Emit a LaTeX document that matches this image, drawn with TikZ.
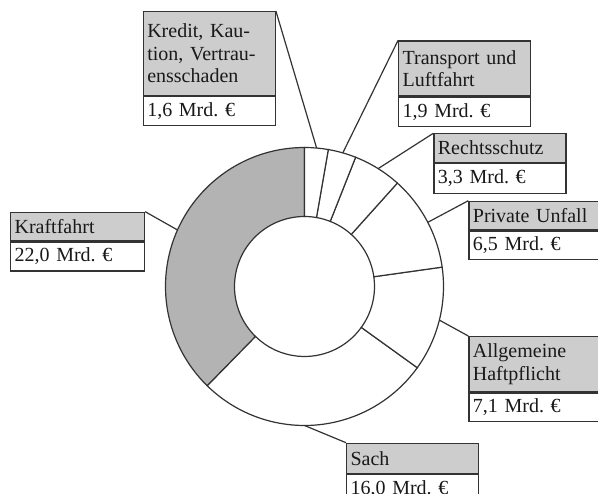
\documentclass[tikz,border=0pt]{standalone}
\usepackage{fontspec}
\setmainfont{Liberation Serif}
\definecolor{ln}{HTML}{333333}
\definecolor{hdr}{HTML}{CDCDCD}
\definecolor{slc}{HTML}{B3B3B3}
\begin{document}
\begin{tikzpicture}[x=1pt,y=1pt,
  every node/.style={font=\fontsize{20}{22.5}\selectfont\frenchspacing, text=black!90},
  hdrbox/.style={draw=ln, line width=1.2pt, fill=hdr, rectangle, anchor=north west,
    inner xsep=4pt, inner ysep=0pt, text width=124pt, align=left, minimum height=#1},
  hdrbox/.default=28.5pt,
  valbox/.style={draw=ln, line width=1.2pt, fill=white, rectangle, anchor=north west,
    inner xsep=4pt, inner ysep=0pt, text width=124pt, align=left, minimum height=29pt},
  conn/.style={draw=ln, line width=1.2pt},
  ring/.style={draw=ln, line width=1.2pt}
]
\clip (0,0) rectangle (598,-494);
\fill[white] (0,0) rectangle (598,-494);

% donut
\coordinate (C) at (304.5,-286.5);
\foreach \a/\b/\f in {90/225.616/slc, 225.616/324.246/white, 324.246/368.013/white,
  368.013/408.082/white, 408.082/428.424/white, 428.424/440.137/white, 440.137/450/white}
  \draw[ring, fill=\f, shift={(C)}] (\a:139pt) arc[start angle=\a, end angle=\b, radius=139pt]
    -- (\b:70pt) arc[start angle=\b, end angle=\a, radius=70pt] -- cycle;

% connector end points on the outer circle
\path (C) ++(85:139pt) coordinate (pkred);
\path (C) ++(74:139pt) coordinate (ptrans);
\path (C) ++(58:139pt) coordinate (precht);
\path (C) ++(27.5:139pt) coordinate (ppriv);
\path (C) ++(346:139pt) coordinate (phaft);
\path (C) ++(270:139pt) coordinate (psach);
\path (C) ++(156:139pt) coordinate (pkraft);

% boxes
\node[hdrbox=84pt] (kh) at (142.7,-11) {Kredit, Kau-\\tion, Vertrau-\\ensschaden};
\node[valbox, minimum height=28.5pt] (kv) at (kh.south west) {1,6 Mrd. €};

\node[hdrbox=55pt] (th) at (398,-40.5) {Transport und\\Luftfahrt};
\node[valbox] (tv) at (th.south west) {1,9 Mrd. €};

\node[hdrbox] (rh) at (433.3,-133.3) {Rechtsschutz};
\node[valbox, minimum height=30pt] (rv) at (rh.south west) {3,3 Mrd. €};

\node[hdrbox] (ph) at (468.3,-200.7) {Private Unfall};
\node[valbox, minimum height=28.5pt] (pv) at (ph.south west) {6,5 Mrd. €};

\node[hdrbox=55.5pt] (hh) at (468.3,-336) {Allgemeine\\Haftpflicht};
\node[valbox, minimum height=28pt] (hv) at (hh.south west) {7,1 Mrd. €};

\node[hdrbox=30pt] (sh) at (346,-442.7) {Sach};
\node[valbox] (sv) at (sh.south west) {16,0 Mrd. €};

\node[hdrbox, text width=126pt] (fh) at (10,-211.7) {Kraftfahrt};
\node[valbox, text width=126pt] (fv) at (fh.south west) {22,0 Mrd. €};

% connectors
\draw[conn] (kh.north east) -- (pkred);
\draw[conn] (th.north west) -- (ptrans);
\draw[conn] (rh.north west) -- (precht);
\draw[conn] (ph.north west) -- (ppriv);
\draw[conn] (hh.north west) -- (phaft);
\draw[conn] (sh.north west) -- (psach);
\draw[conn] (fh.north east) -- (pkraft);
\end{tikzpicture}
\end{document}
